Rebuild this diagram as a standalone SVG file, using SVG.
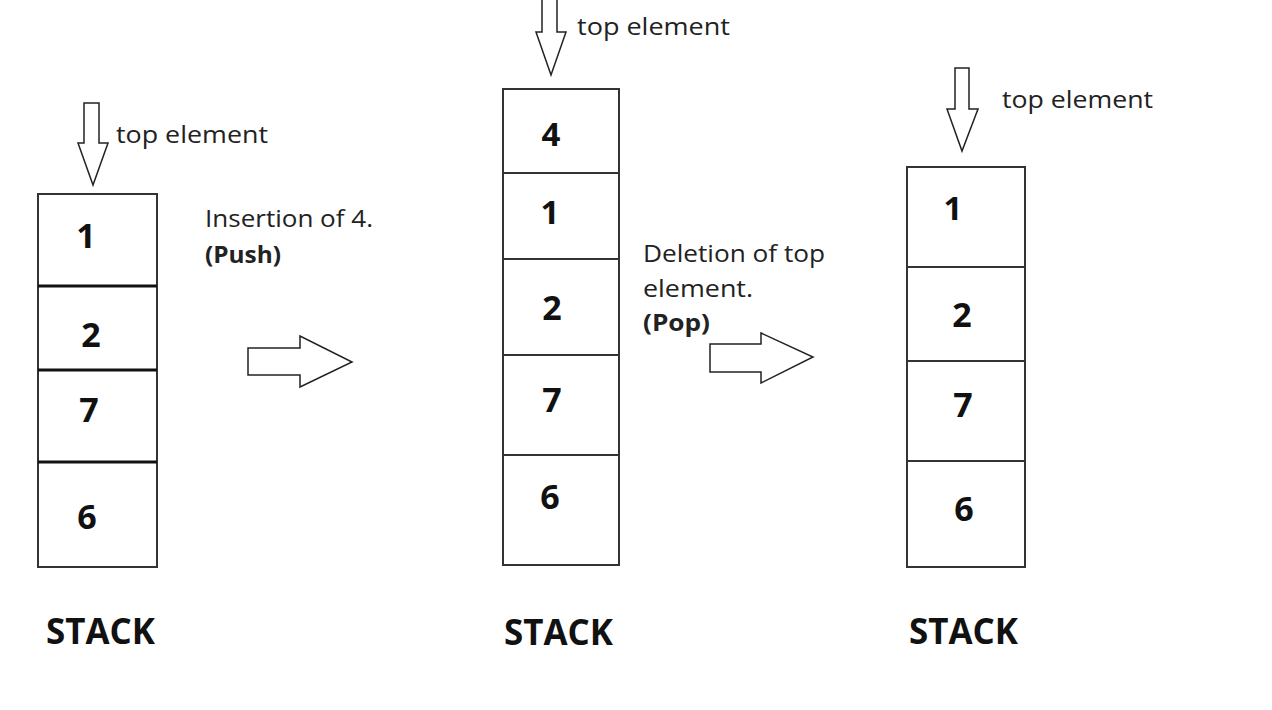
<svg xmlns="http://www.w3.org/2000/svg" width="1272" height="710" viewBox="0 0 1272 710">
<style>
.box{fill:#fff;stroke:#333;stroke-width:2}
.div{stroke:#333;stroke-width:2}
.div1{stroke:#111;stroke-width:3}
.arr{fill:#fff;stroke:#222;stroke-width:1.5;stroke-linejoin:miter}
.num{font-family:"Open Sans","Liberation Sans",sans-serif;font-weight:bold;fill:#111;text-anchor:middle}
.lbl{font-family:"Open Sans","Liberation Sans",sans-serif;font-size:24px;fill:#222}
.bl{font-family:"Open Sans","Liberation Sans",sans-serif;font-size:24px;font-weight:bold;fill:#222}
.stk{font-family:"Open Sans","Liberation Sans",sans-serif;font-size:36px;font-weight:bold;fill:#111}
</style>
<rect width="1272" height="710" fill="#fff"/>
<g id="connectors">
<polygon class="arr" points="84,103 99,103 99,143 108,143 93,185 78,143 84,143"/>
<polygon class="arr" points="542,-2 557,-2 557,32 566,32 551,75 536,32 542,32"/>
<polygon class="arr" points="955,68 969,68 969,109 978,109 962,151 947,109 955,109"/>
<polygon class="arr" points="248,348 300,348 300,336 352,362 300,387 300,375 248,375"/>
<polygon class="arr" points="710,344 761,344 761,333 813,357 761,383 761,372 710,372"/>
</g>
<g id="stack1">
<rect class="box" x="38" y="194" width="119" height="373"/>
<line class="div1" x1="38" y1="286" x2="157" y2="286"/>
<line class="div1" x1="38" y1="370" x2="157" y2="370"/>
<line class="div1" x1="38" y1="462" x2="157" y2="462"/>
<text class="num" x="86" y="248" font-size="34">1</text>
<text class="num" x="91" y="347" font-size="34">2</text>
<text class="num" x="89" y="422" font-size="34">7</text>
<text class="num" x="87" y="529" font-size="34">6</text>
<text class="stk" x="46" y="644" textLength="109" lengthAdjust="spacingAndGlyphs">STACK</text>
</g>
<g id="stack2">
<rect class="box" x="503" y="89" width="116" height="476"/>
<line class="div" x1="503" y1="173" x2="619" y2="173"/>
<line class="div" x1="503" y1="259" x2="619" y2="259"/>
<line class="div" x1="503" y1="355" x2="619" y2="355"/>
<line class="div" x1="503" y1="455" x2="619" y2="455"/>
<text class="num" x="551" y="146" font-size="33">4</text>
<text class="num" x="550" y="224" font-size="33">1</text>
<text class="num" x="552" y="320" font-size="34">2</text>
<text class="num" x="552" y="412" font-size="34">7</text>
<text class="num" x="550" y="509" font-size="34">6</text>
<text class="stk" x="504" y="645" textLength="109" lengthAdjust="spacingAndGlyphs">STACK</text>
</g>
<g id="stack3">
<rect class="box" x="907" y="167" width="118" height="400"/>
<line class="div" x1="907" y1="267" x2="1025" y2="267"/>
<line class="div" x1="907" y1="361" x2="1025" y2="361"/>
<line class="div" x1="907" y1="461" x2="1025" y2="461"/>
<text class="num" x="953" y="220" font-size="33">1</text>
<text class="num" x="962" y="327" font-size="34">2</text>
<text class="num" x="963" y="417" font-size="34">7</text>
<text class="num" x="964" y="521" font-size="34">6</text>
<text class="stk" x="909" y="644" textLength="109" lengthAdjust="spacingAndGlyphs">STACK</text>
</g>
<g id="labels">
<text class="lbl" x="116" y="143" textLength="152" lengthAdjust="spacingAndGlyphs">top element</text>
<text class="lbl" x="577" y="35" textLength="153" lengthAdjust="spacingAndGlyphs">top element</text>
<text class="lbl" x="1002" y="108" textLength="151" lengthAdjust="spacingAndGlyphs">top element</text>
<text class="lbl" x="205" y="227" textLength="168" lengthAdjust="spacingAndGlyphs">Insertion of 4.</text>
<text class="bl" x="205" y="263" textLength="76" lengthAdjust="spacingAndGlyphs">(Push)</text>
<text class="lbl" x="643" y="262" textLength="182" lengthAdjust="spacingAndGlyphs">Deletion of top</text>
<text class="lbl" x="643" y="297" textLength="110" lengthAdjust="spacingAndGlyphs">element.</text>
<text class="bl" x="643" y="331" textLength="67" lengthAdjust="spacingAndGlyphs">(Pop)</text>
</g>
</svg>
